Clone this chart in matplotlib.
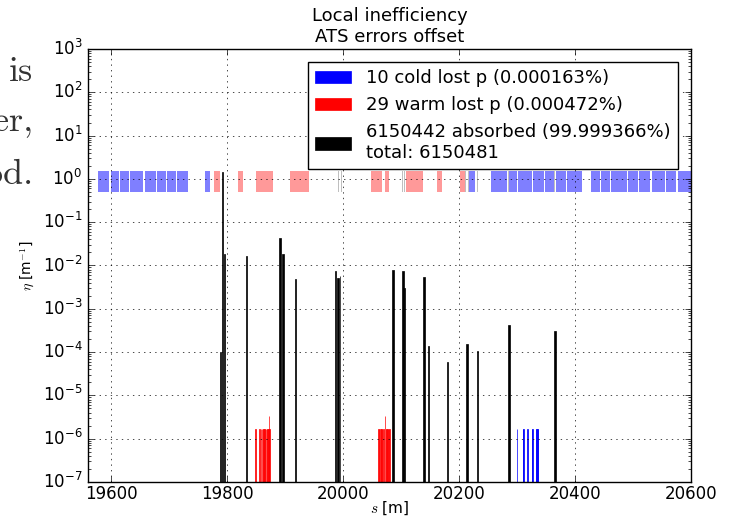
import matplotlib
matplotlib.use("Agg")
import matplotlib.pyplot as plt

# particle counts of the tracking run
n_cold = 10
n_warm = 29
n_absorbed = 6150442
n_total = n_cold + n_warm + n_absorbed

# collimator losses: position [m], local inefficiency [1/m], length [m]
coll_s = [19789, 19792, 19795, 19833, 19891, 19896, 19918, 19987, 19991.5, 19995,
          20086, 20103, 20106, 20140, 20147, 20180, 20214, 20232, 20286, 20366]
coll_eta = [1.0e-4, 1.45, 1.8e-2, 1.65e-2, 4.4e-2, 1.8e-2, 5.0e-3, 7.5e-3, 5.1e-3, 5.8e-3,
            7.9e-3, 7.3e-3, 3.1e-3, 5.3e-3, 1.4e-4, 5.9e-5, 1.55e-4, 1.05e-4, 4.3e-4, 3.0e-4]
coll_len = [2.0, 3.0, 2.0, 1.0, 3.0, 3.0, 1.0, 1.0, 3.0, 1.0,
            3.0, 3.0, 3.0, 3.0, 1.0, 3.0, 3.0, 3.0, 3.0, 3.0]

# aperture losses, one particle per bin unless noted
warm_s = [19849.0, 19855.5, 19858.7, 19860.0, 19861.5, 19863.0, 19864.4, 19865.8,
          19867.3, 19868.6, 19870.0, 19871.0, 19872.0, 19873.0,
          20061.0, 20062.2, 20064.5, 20066.0, 20067.2, 20070.0, 20072.5,
          20073.6, 20075.0, 20076.5, 20077.8, 20079.0, 20080.2]
warm_n = [1, 1, 1, 1, 1, 1, 1, 1, 1, 1, 1, 1, 2, 1,
          1, 1, 1, 1, 1, 1, 2, 1, 1, 1, 1, 1, 1]
cold_s = [20300.2, 20310.4, 20310.9, 20318.4, 20325.9, 20326.5,
          20332.3, 20333.6, 20335.0, 20336.4]
cold_n = [1, 1, 1, 1, 1, 1, 1, 1, 1, 1]
bin_len = 0.1

# machine layout drawn as a band around eta = 1: (start, end) in metres
cold_elem = [(19578, 19597), (19600, 19614), (19616, 19630), (19632, 19655),
             (19658, 19677), (19679, 19694), (19696, 19712), (19714, 19732),
             (19762, 19770), (20218, 20227),
             (20256, 20283), (20287, 20300), (20302, 20325), (20327, 20347),
             (20349, 20364), (20367, 20385), (20387, 20412),
             (20428, 20443), (20445, 20460), (20462, 20490), (20492, 20508),
             (20510, 20530), (20532, 20555), (20557, 20575), (20577, 20605)]
warm_elem = [(19778, 19787), (19818, 19827), (19850, 19879), (19909, 19942),
             (20048, 20068), (20073, 20079), (20109, 20138), (20162, 20171),
             (20202, 20210)]
coll_elem = [19834, 19893, 19898, 19988, 19992, 19997, 20086, 20102, 20106,
             20141, 20148, 20179, 20211, 20216, 20232, 20285, 20365]

plt.style.use("classic")
plt.rcParams["figure.facecolor"] = "white"
plt.rcParams["savefig.facecolor"] = "white"
plt.rcParams["xtick.major.pad"] = 2
plt.rcParams["ytick.major.pad"] = 4

fig = plt.figure(figsize=(7.3, 5.18), dpi=100)
ax = fig.add_axes([0.1205, 0.0695, 0.826, 0.836])

# text of the surrounding document page
for txt, y in [("is", 0.843), ("er,", 0.747), ("od.", 0.645)]:
    fig.text(0.046, y, txt, family="cmr10", fontsize=26, color="#333333",
             ha="right", va="baseline")

band_lo, band_h = 0.5, 1.0
ax.bar([a for a, b in cold_elem], [band_h] * len(cold_elem),
       width=[b - a for a, b in cold_elem], bottom=band_lo, align="edge",
       color="blue", alpha=0.5, linewidth=0)
ax.bar([a for a, b in warm_elem], [band_h] * len(warm_elem),
       width=[b - a for a, b in warm_elem], bottom=band_lo, align="edge",
       color="red", alpha=0.4, linewidth=0)
ax.bar(coll_elem, [band_h] * len(coll_elem), width=1.0, bottom=band_lo,
       color="gray", alpha=0.5, linewidth=0)

base = 1e-8
norm = n_total * bin_len
ax.bar(cold_s, [n / norm for n in cold_n], width=0.8, bottom=base,
       color="blue", edgecolor="blue", linewidth=0.5,
       label="%d cold lost p (%.6f%%)" % (n_cold, 100.0 * n_cold / n_total))
ax.bar(warm_s, [n / norm for n in warm_n], width=0.8, bottom=base,
       color="red", edgecolor="red", linewidth=0.5,
       label="%d warm lost p (%.6f%%)" % (n_warm, 100.0 * n_warm / n_total))
ax.bar(coll_s, coll_eta, width=coll_len, bottom=base,
       color="black", edgecolor="black", linewidth=0.5,
       label="%d absorbed (%.6f%%)\ntotal: %d"
             % (n_absorbed, 100.0 * n_absorbed / n_total, n_total))

ax.set_yscale("log")
ax.set_xlim(19560, 20600)
ax.set_ylim(1e-7, 1e3)
ax.set_xticks([19600, 19800, 20000, 20200, 20400, 20600])
ax.ticklabel_format(axis="x", useOffset=False, style="plain")
ax.grid(True)
ax.set_xlabel(r"$s$ [m]", fontsize=11, labelpad=-2)
ax.set_ylabel(r"$\eta$ [m$^{-1}$]", fontsize=10)
ax.set_title("Local inefficiency\nATS errors offset", fontsize=13)
ax.legend(loc="upper right", bbox_to_anchor=(0.978, 0.97), borderaxespad=0,
          fontsize=13, fancybox=False)

fig.savefig("out.png", dpi=100)
